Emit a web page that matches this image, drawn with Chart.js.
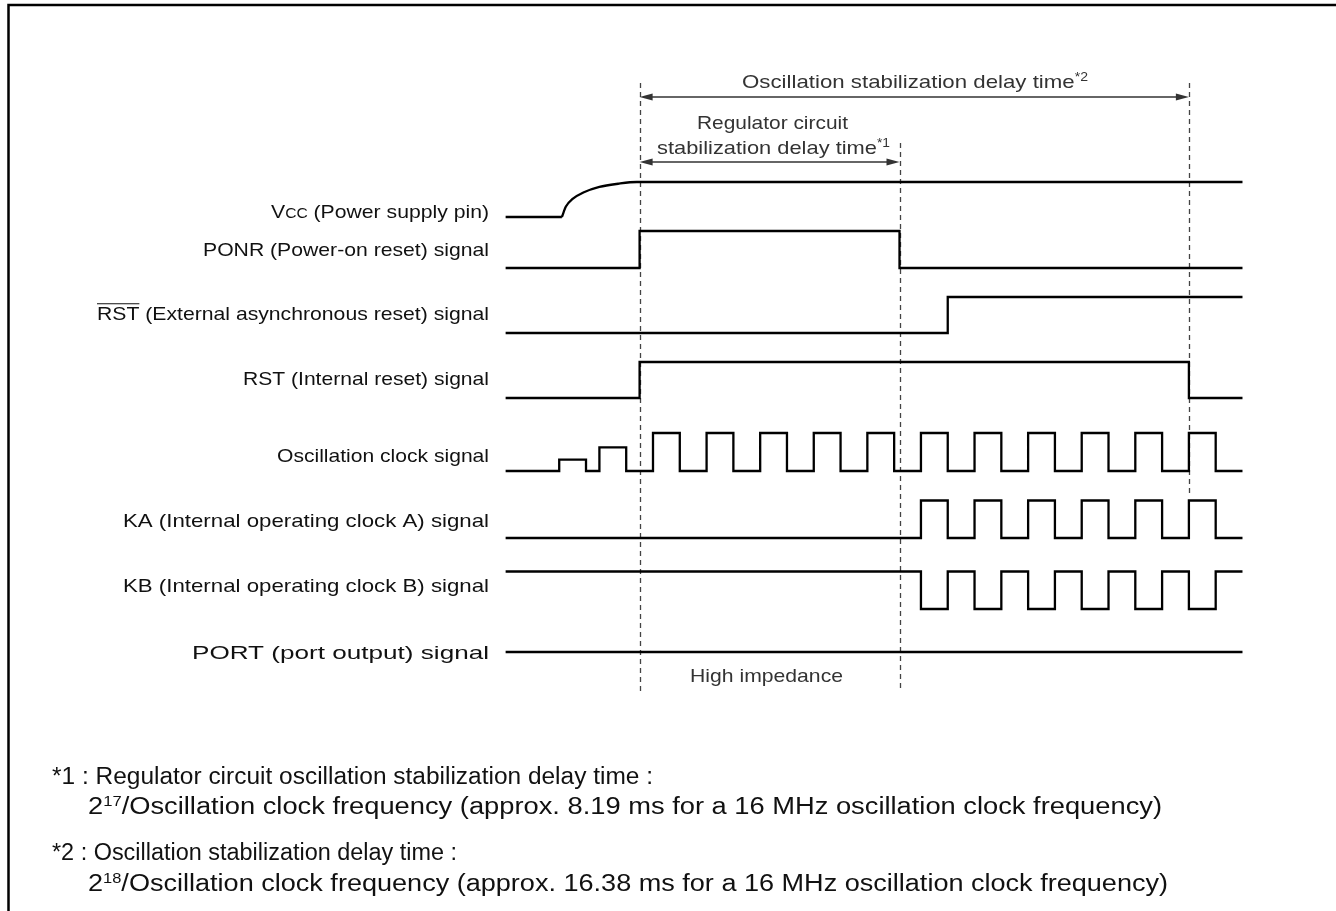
<!DOCTYPE html>
<html>
<head>
<meta charset="utf-8">
<script src="https://cdn.jsdelivr.net/npm/chart.js@4"></script>
<style>
  html, body { margin: 0; padding: 0; background: #fff; }
  canvas { display: block; }
</style>
</head>
<body>
<canvas id="timing" width="1336" height="911"></canvas>
<script>
// time is counted in half periods of the oscillation clock, 0 = first full clock rising edge
// text parts: [text, style]  style 0 normal, 1 small caps, 2 superscript, 3 overline
const signalLabels = [
    [["V", 0], ["CC", 1], [" (Power supply pin)", 0]],
    [["PONR (Power-on reset) signal", 0]],
    [["RST", 3], [" (External asynchronous reset) signal", 0]],
    [["RST (Internal reset) signal", 0]],
    [["Oscillation clock signal", 0]],
    [["KA (Internal operating clock A) signal", 0]],
    [["KB (Internal operating clock B) signal", 0]],
    [["PORT (port output) signal", 0]]
];

// Vcc: flat start then a curved rise
const vccLowTimes = [-5.5, -3.4];
const vccLowLevels = [0, 0];
const vccRiseTimes = [-3.4, -3.25, -3.0, -2.6, -2.0, -1.3, -0.6, 22];
const vccRiseLevels = [0, 0.3, 0.52, 0.7, 0.86, 0.95, 1, 1];

// step signals: at each time the level changes to the given value
const ponrTimes = [-5.5, -0.5, 9.2, 22];
const ponrLevels = [0, 1, 0, 0];
const extRstTimes = [-5.5, 11, 22];
const extRstLevels = [0, 1, 1];
const rstTimes = [-5.5, -0.5, 20, 22];
const rstLevels = [0, 1, 0, 0];
const oscTimes = [-5.5, -3.5, -2.5, -2, -1, 0, 1, 2, 3, 4, 5, 6, 7, 8, 9, 10, 11, 12, 13, 14, 15, 16, 17, 18, 19, 20, 21, 22];
const oscLevels = [0, 0.3, 0, 0.62, 0, 1, 0, 1, 0, 1, 0, 1, 0, 1, 0, 1, 0, 1, 0, 1, 0, 1, 0, 1, 0, 1, 0, 0];
const kaTimes = [-5.5, 10, 11, 12, 13, 14, 15, 16, 17, 18, 19, 20, 21, 22];
const kaLevels = [0, 1, 0, 1, 0, 1, 0, 1, 0, 1, 0, 1, 0, 0];
const kbTimes = [-5.5, 10, 11, 12, 13, 14, 15, 16, 17, 18, 19, 20, 21, 22];
const kbLevels = [1, 0, 1, 0, 1, 0, 1, 0, 1, 0, 1, 0, 1, 1];
const portTimes = [-5.5, 22];
const portLevels = [0, 0];

// guide marks (times)
const guideTimes = [-0.5, 9.2, 20];
const oscDelay = [-0.5, 20];
const regDelay = [-0.5, 9.2];

const oscDelayText = [["Oscillation stabilization delay time", 0], ["*2", 2]];
const regDelayText1 = [["Regulator circuit", 0]];
const regDelayText2 = [["stabilization delay time", 0], ["*1", 2]];
const hiZText = [["High impedance", 0]];

const footnotes = [
    [["*1 : Regulator circuit oscillation stabilization delay time :", 0]],
    [["2", 0], ["17", 2], ["/Oscillation clock frequency (approx. 8.19 ms for a 16 MHz oscillation clock frequency)", 0]],
    [["*2 : Oscillation stabilization delay time :", 0]],
    [["2", 0], ["18", 2], ["/Oscillation clock frequency (approx. 16.38 ms for a 16 MHz oscillation clock frequency)", 0]]
];

// ---- layout (pixels) ----
const laneBase = [217, 268, 333, 398, 471, 538, 609, 652];
const laneAmp = [35, 37, 36, 36, 38, 37.5, 37.5, 37];
const labelBaseline = [218, 256, 320, 385, 462, 527, 592, 659];
const labelLeft = [271, 203, 97, 243, 277, 123, 123, 192];
const labelRight = 489;
const guideTop = [83, 143, 83];
const guideBottom = [692, 692, 495];
const footLeft = [52, 88, 52, 88];
const footRight = [653, 1162, 457, 1168];
const footBaseline = [784, 814, 860, 891];

const FONT = '"Liberation Sans", Arial, Helvetica, sans-serif';

function toPoints(times, levels, lane) {
    return times.map((t, i) => ({ x: t, y: laneBase[lane] - levels[i] * laneAmp[lane] }));
}

function wave(times, levels, lane, extra) {
    return Object.assign({
        data: toPoints(times, levels, lane),
        borderColor: '#000',
        borderWidth: 2.3,
        pointRadius: 0,
        stepped: true,
        fill: false,
        clip: false,
        borderJoinStyle: 'miter'
    }, extra || {});
}

function partFont(style, size) {
    const s = style === 1 ? Math.round(size * 0.72) : style === 2 ? Math.round(size * 0.62) : size;
    return s + 'px ' + FONT;
}

function measureParts(ctx, parts, size) {
    return parts.map(p => { ctx.font = partFont(p[1], size); return ctx.measureText(p[0]).width; });
}

// draws text parts stretched or squeezed to fill [left, right]
function drawFitted(ctx, parts, left, right, baseline, size, color) {
    const widths = measureParts(ctx, parts, size);
    const total = widths.reduce((a, b) => a + b, 0);
    const sx = (right - left) / total;
    ctx.save();
    ctx.translate(left, baseline);
    ctx.scale(sx, 1);
    ctx.fillStyle = color;
    ctx.strokeStyle = color;
    ctx.textBaseline = 'alphabetic';
    ctx.textAlign = 'left';
    let x = 0;
    parts.forEach((p, i) => {
        ctx.font = partFont(p[1], size);
        const rise = p[1] === 2 ? size * 0.36 : 0;
        ctx.fillText(p[0], x, -rise);
        if (p[1] === 3) {
            ctx.lineWidth = 1;
            ctx.beginPath();
            ctx.moveTo(x, -size * 0.86);
            ctx.lineTo(x + widths[i], -size * 0.86);
            ctx.stroke();
        }
        x += widths[i];
    });
    ctx.restore();
}

function arrow(ctx, x1, x2, y) {
    const len = 13, half = 3.5;
    ctx.save();
    ctx.strokeStyle = '#333';
    ctx.fillStyle = '#333';
    ctx.lineWidth = 1.5;
    ctx.beginPath();
    ctx.moveTo(x1 + len - 2, y);
    ctx.lineTo(x2 - len + 2, y);
    ctx.stroke();
    ctx.beginPath();
    ctx.moveTo(x1, y);
    ctx.lineTo(x1 + len, y - half);
    ctx.lineTo(x1 + len, y + half);
    ctx.closePath();
    ctx.fill();
    ctx.beginPath();
    ctx.moveTo(x2, y);
    ctx.lineTo(x2 - len, y - half);
    ctx.lineTo(x2 - len, y + half);
    ctx.closePath();
    ctx.fill();
    ctx.restore();
}

const decorPlugin = {
    id: 'decor',
    beforeDatasetsDraw(chart) {
        const ctx = chart.ctx;
        const xs = chart.scales.x;
        ctx.save();
        ctx.strokeStyle = '#444';
        ctx.lineWidth = 1.3;
        ctx.setLineDash([5, 4]);
        guideTimes.forEach((t, i) => {
            const x = Math.round(xs.getPixelForValue(t)) + 0.5;
            ctx.beginPath();
            ctx.moveTo(x, guideTop[i]);
            ctx.lineTo(x, guideBottom[i]);
            ctx.stroke();
        });
        ctx.restore();
    },
    afterDatasetsDraw(chart) {
        const ctx = chart.ctx;
        const xs = chart.scales.x;

        // frame
        ctx.save();
        ctx.strokeStyle = '#000';
        ctx.lineWidth = 2.5;
        ctx.beginPath();
        ctx.moveTo(8.5, 911);
        ctx.lineTo(8.5, 5);
        ctx.lineTo(1336, 5);
        ctx.stroke();
        ctx.restore();

        // delay arrows
        arrow(ctx, xs.getPixelForValue(oscDelay[0]), xs.getPixelForValue(oscDelay[1]), 97);
        arrow(ctx, xs.getPixelForValue(regDelay[0]), xs.getPixelForValue(regDelay[1]), 162);
        drawFitted(ctx, oscDelayText, 742, 1088, 88, 19, '#333');
        drawFitted(ctx, regDelayText1, 697, 848, 129, 19, '#333');
        drawFitted(ctx, regDelayText2, 657, 890, 154, 19, '#333');
        drawFitted(ctx, hiZText, 690, 843, 682, 19, '#333');

        // signal names
        signalLabels.forEach((parts, i) => {
            drawFitted(ctx, parts, labelLeft[i], labelRight, labelBaseline[i], 19, '#111');
        });

        // footnotes
        footnotes.forEach((parts, i) => {
            drawFitted(ctx, parts, footLeft[i], footRight[i], footBaseline[i], 23, '#111');
        });
    }
};

new Chart(document.getElementById('timing'), {
    type: 'line',
    data: {
        datasets: [
            wave(vccLowTimes, vccLowLevels, 0, { stepped: false }),
            wave(vccRiseTimes, vccRiseLevels, 0, { stepped: false, cubicInterpolationMode: 'monotone' }),
            wave(ponrTimes, ponrLevels, 1),
            wave(extRstTimes, extRstLevels, 2),
            wave(rstTimes, rstLevels, 3),
            wave(oscTimes, oscLevels, 4),
            wave(kaTimes, kaLevels, 5),
            wave(kbTimes, kbLevels, 6),
            wave(portTimes, portLevels, 7)
        ]
    },
    options: {
        responsive: false,
        animation: false,
        devicePixelRatio: 1,
        layout: { padding: 0 },
        plugins: { legend: { display: false }, tooltip: { enabled: false } },
        scales: {
            x: { type: 'linear', min: -24.37, max: 25.49, display: false },
            y: { type: 'linear', min: 0, max: 911, reverse: true, display: false }
        }
    },
    plugins: [decorPlugin]
});
</script>
</body>
</html>
